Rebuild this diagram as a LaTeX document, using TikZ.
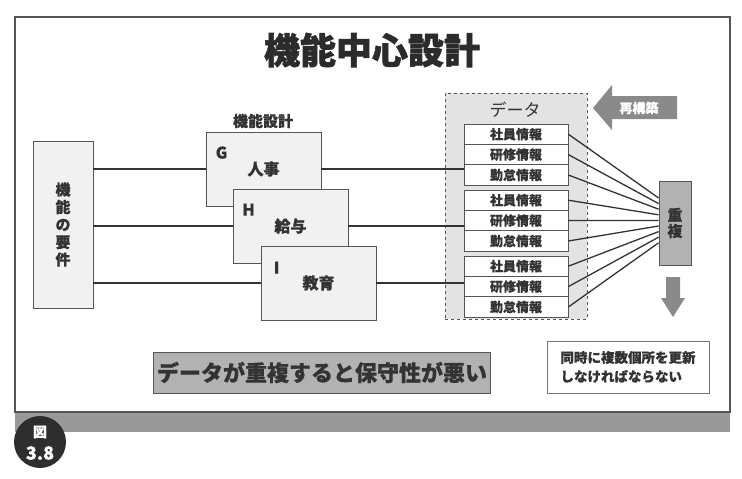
\documentclass[tikz,border=0pt]{standalone}
\usepackage{fontspec}
\setmainfont{Noto Sans CJK JP}[BoldFeatures={FakeBold=0.5}]
\newfontfamily\heavyfont{Noto Sans CJK JP}[BoldFeatures={FakeBold=1.6}]
\usetikzlibrary{positioning, calc}
\definecolor{ink}{HTML}{333333}
\definecolor{edge}{HTML}{555555}
\definecolor{paper}{HTML}{F1F1F1}
\definecolor{shade}{HTML}{E3E3E3}
\definecolor{midgray}{HTML}{B2B2B2}
\definecolor{arrowgray}{HTML}{8A8A8A}
\definecolor{bargray}{HTML}{999999}
\newcommand{\fsz}[2]{\fontsize{#1}{#2}\selectfont\bfseries}

\begin{document}
\begin{tikzpicture}[x=1pt, y=-1pt, text=ink,
    box/.style={draw=edge, line width=0.8pt, fill=paper, inner sep=0pt},
    func/.style={box, minimum width=115pt, minimum height=74pt, font={\fsz{16}{16}}},
    tag/.style={font={\fsz{16}{16}}},
    rowbox/.style={draw=edge, line width=0.7pt, fill=white, minimum width=104pt,
                   minimum height=20.4pt, inner sep=0pt, font={\fsz{13}{13}}},
    wire/.style={draw=ink, line width=2pt},
    fan/.style={draw=ink, line width=1.3pt}]
    \useasboundingbox (0,0) rectangle (742,479);
    \draw[edge, line width=1.2pt] (15,17) rectangle (730,412);
    \fill[bargray] (15,412) rectangle (730,432);
    \draw[edge, line width=0.8pt] (15,412) -- (730,412);

    \node[font={\heavyfont\fsz{36}{36}}, text=ink!85!black] (title) at (372,50) {機能中心設計};

    \node[box, minimum width=60pt, minimum height=167pt, align=center,
          font={\fsz{15}{17.5}}] (req) at (63,224.5) {機\\能\\の\\要\\件};

    \node[font={\fsz{15}{15}}] (design) at (263,121) {機能設計};
    \node[func] (G) at (263.5,169) {人事};
    \node[tag] (gtag) at ([shift={(16,21)}]G.north west) {G};
    \node[func] (H) at (290.5,226) {給与};
    \node[tag] (htag) at ([shift={(16,21)}]H.north west) {H};
    \node[func] (I) at (318.5,283) {教育};
    \node[tag] (itag) at ([shift={(16,22)}]I.north west) {I};

    \node[draw=edge, dashed, line width=0.8pt, fill=shade, minimum width=142pt,
          minimum height=226pt] (data) at (516,206) {};
    \node[font=\fontsize{17}{17}\selectfont] (datalabel) at (515,110) {データ};
    \foreach \g in {0,1,2} {
        \foreach \r/\t in {0/社員情報,1/研修情報,2/勤怠情報} {
            \node[rowbox] (d\g\r) at (516,{134.2+66*\g+20.4*\r}) {\t};
        }
    }

    \node[draw=edge, line width=0.8pt, fill=midgray, minimum width=32pt,
          minimum height=84pt, align=center, font={\fsz{15}{16}}] (dup) at (675,223) {重\\複};

    \draw[wire] (req.east |- G.west) -- (G.west);
    \draw[wire] (req.east |- H.west) -- (H.west);
    \draw[wire] (req.east |- I.west) -- (I.west);
    \draw[wire] (G.east) -- (G.east -| d02.west);
    \draw[wire] (H.east) -- (H.east -| d11.west);
    \draw[wire] (I.east) -- (I.east -| d21.west);

    \foreach \g in {0,1,2} {
        \foreach \r in {0,1,2} {
            \draw[fan] (d\g\r.east) -- ($(dup.west)+(0,{-25+5.6*(3*\g+\r)})$);
        }
    }

    \fill[arrowgray] (593,108) -- (612,85) -- (612,96) -- (677,96) -- (677,119)
        -- (612,119) -- (612,130) -- cycle;
    \node[text=white, font={\fsz{13}{13}}] (rebuild) at (639,108) {再構築};
    \fill[arrowgray] (666,277) -- (680,277) -- (680,298) -- (685,298) -- (673,317)
        -- (661,298) -- (666,298) -- cycle;

    \node[draw=edge, line width=0.8pt, fill=midgray, minimum width=330pt,
          minimum height=41pt, font={\fsz{22}{22}}] (summary) at (322,372.5)
          {データが重複すると保守性が悪い};
    \node[draw=edge!80, line width=0.8pt, fill=white, minimum width=162pt,
          minimum height=52pt, align=left, font={\fsz{13.5}{19}}] (note) at (628,367)
          {同時に複数個所を更新\\しなければならない};

    \node[circle, fill=ink!90!black, minimum size=52pt] (badge) at (40,442) {};
    \node[text=white, font={\fsz{14}{14}}] (fig) at (40,432) {図};
    \node[text=white, font={\fsz{18}{18}}] (fignum) at (40,453) {3.8};
\end{tikzpicture}
\end{document}
